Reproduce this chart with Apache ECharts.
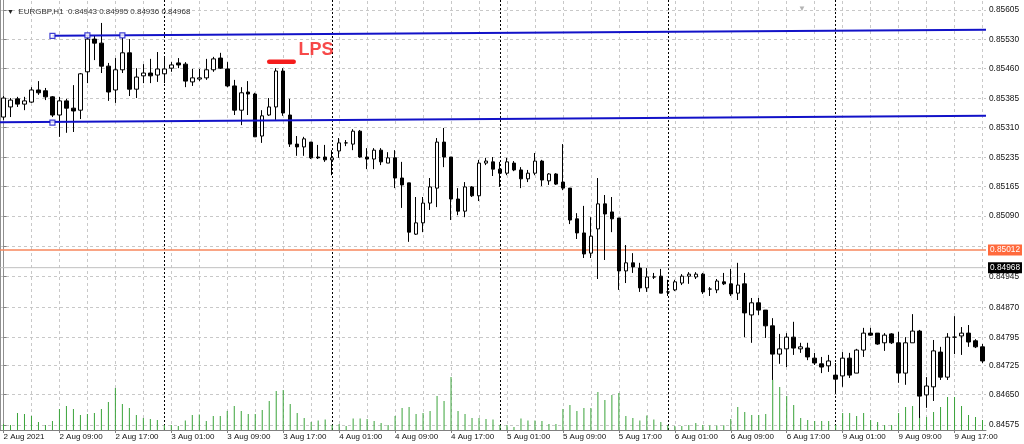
<!DOCTYPE html>
<html><head><meta charset="utf-8">
<script src="https://cdn.jsdelivr.net/npm/echarts@6/dist/echarts.min.js"></script>
<style>html,body{margin:0;padding:0;background:#fff}#c{width:1024px;height:444px}</style>
</head><body><div id="c"></div>
<script>
// ---- categories (hourly bars) ----
const days = ['2 Aug','3 Aug','4 Aug','5 Aug','6 Aug','9 Aug'];
const firstDayStartHour = 1, lastDayEndHour = 21;
const categories = [];
days.forEach((d, di) => {
  const h0 = di === 0 ? firstDayStartHour : 0;
  const h1 = di === days.length - 1 ? lastDayEndHour : 23;
  for (let h = h0; h <= h1; h++) categories.push(d + ' ' + String(h).padStart(2, '0') + ':00');
});
const xLabels = ['2 Aug 2021','2 Aug 09:00','2 Aug 17:00','3 Aug 01:00','3 Aug 09:00','3 Aug 17:00',
  '4 Aug 01:00','4 Aug 09:00','4 Aug 17:00','5 Aug 01:00','5 Aug 09:00','5 Aug 17:00',
  '6 Aug 01:00','6 Aug 09:00','6 Aug 17:00','9 Aug 01:00','9 Aug 09:00','9 Aug 17:00'];
const labelEvery = 8, gridEvery = 4;
const daySeparators = ['3 Aug 00:00','4 Aug 00:00','5 Aug 00:00','6 Aug 00:00','9 Aug 00:00'];

// ---- OHLC ----
const opens = [
0.85341,0.85366,0.85386,0.85373,0.85378,0.85408,0.85406,0.85391,0.85346,0.85381,
0.85363,0.85358,0.85453,0.85534,0.85524,0.85467,0.85408,0.85458,0.85500,0.85410,
0.85443,0.85450,0.85445,0.85448,0.85462,0.85475,0.85472,0.85428,0.85435,0.85438,
0.85458,0.85487,0.85460,0.85418,0.85358,0.85403,0.85398,0.85294,0.85346,0.85366,
0.85455,0.85346,0.85274,0.85267,0.85279,0.85242,0.85242,0.85235,0.85257,0.85277,
0.85274,0.85306,0.85242,0.85237,0.85259,0.85227,0.85240,0.85190,0.85178,0.85051,
0.85079,0.85128,0.85165,0.85279,0.85242,0.85138,0.85108,0.85168,0.85146,0.85227,
0.85230,0.85212,0.85202,0.85227,0.85210,0.85188,0.85202,0.85232,0.85183,0.85200,
0.85180,0.85165,0.85089,0.85054,0.85004,0.85064,0.85126,0.85106,0.85091,0.84960,
0.84980,0.84967,0.84918,0.84945,0.84947,0.84908,0.84913,0.84930,0.84947,0.84945,
0.84952,0.84915,0.84913,0.84933,0.84928,0.84905,0.84928,0.84851,0.84881,0.84863,
0.84824,0.84754,0.84767,0.84796,0.84767,0.84769,0.84744,0.84730,0.84725,0.84702,
0.84700,0.84744,0.84707,0.84764,0.84806,0.84806,0.84782,0.84804,0.84782,0.84707,
0.84782,0.84811,0.84653,0.84673,0.84759,0.84697,0.84796,0.84799,0.84806,0.84787,
0.84772];
const closes = [
0.85388,0.85383,0.85373,0.85381,0.85408,0.85401,0.85391,0.85346,0.85381,0.85363,
0.85356,0.85448,0.85534,0.85524,0.85467,0.85403,0.85458,0.85500,0.85410,0.85440,
0.85450,0.85443,0.85460,0.85460,0.85470,0.85470,0.85430,0.85438,0.85438,0.85458,
0.85485,0.85462,0.85418,0.85358,0.85401,0.85398,0.85292,0.85344,0.85366,0.85455,
0.85351,0.85274,0.85267,0.85287,0.85240,0.85240,0.85235,0.85240,0.85277,0.85277,
0.85306,0.85242,0.85237,0.85259,0.85230,0.85240,0.85190,0.85173,0.85056,0.85079,
0.85128,0.85168,0.85279,0.85242,0.85138,0.85108,0.85168,0.85146,0.85227,0.85232,
0.85212,0.85202,0.85230,0.85210,0.85188,0.85202,0.85232,0.85185,0.85200,0.85175,
0.85165,0.85086,0.85054,0.85002,0.85046,0.85126,0.85101,0.85089,0.84960,0.84980,
0.84970,0.84918,0.84945,0.84945,0.84905,0.84908,0.84933,0.84947,0.84952,0.84952,
0.84908,0.84915,0.84935,0.84928,0.84903,0.84925,0.84856,0.84881,0.84863,0.84824,
0.84754,0.84767,0.84796,0.84769,0.84772,0.84747,0.84732,0.84722,0.84737,0.84692,
0.84744,0.84702,0.84764,0.84806,0.84801,0.84779,0.84801,0.84782,0.84707,0.84782,
0.84811,0.84650,0.84675,0.84762,0.84697,0.84796,0.84796,0.84806,0.84784,0.84772,
0.84737];
const lows = [
0.85334,0.85341,0.85366,0.85358,0.85376,0.85396,0.85383,0.85341,0.85292,0.85302,
0.85304,0.85336,0.85425,0.85482,0.85450,0.85381,0.85376,0.85450,0.85393,0.85388,
0.85425,0.85425,0.85428,0.85425,0.85453,0.85462,0.85415,0.85418,0.85430,0.85433,
0.85453,0.85460,0.85415,0.85346,0.85321,0.85346,0.85292,0.85277,0.85344,0.85334,
0.85344,0.85267,0.85245,0.85245,0.85237,0.85237,0.85230,0.85197,0.85240,0.85269,
0.85259,0.85240,0.85212,0.85212,0.85222,0.85227,0.85165,0.85116,0.85032,0.85049,
0.85056,0.85111,0.85118,0.85217,0.85086,0.85098,0.85093,0.85143,0.85133,0.85222,
0.85195,0.85168,0.85197,0.85207,0.85165,0.85180,0.85197,0.85170,0.85173,0.85173,
0.85160,0.85076,0.85039,0.84992,0.84992,0.84940,0.84987,0.85056,0.84913,0.84930,
0.84955,0.84908,0.84908,0.84940,0.84905,0.84898,0.84910,0.84925,0.84928,0.84940,
0.84903,0.84898,0.84905,0.84925,0.84898,0.84888,0.84796,0.84782,0.84851,0.84794,
0.84690,0.84730,0.84722,0.84752,0.84757,0.84739,0.84727,0.84707,0.84710,0.84660,
0.84673,0.84695,0.84707,0.84747,0.84799,0.84777,0.84762,0.84779,0.84683,0.84678,
0.84782,0.84596,0.84621,0.84638,0.84690,0.84690,0.84754,0.84752,0.84772,0.84769,
0.84732];
const highs = [
0.85393,0.85388,0.85391,0.85391,0.85415,0.85430,0.85413,0.85393,0.85391,0.85386,
0.85420,0.85450,0.85544,0.85544,0.85574,0.85475,0.85487,0.85537,0.85534,0.85462,
0.85472,0.85485,0.85502,0.85492,0.85477,0.85487,0.85477,0.85460,0.85460,0.85485,
0.85490,0.85500,0.85477,0.85433,0.85415,0.85430,0.85401,0.85358,0.85388,0.85462,
0.85462,0.85386,0.85294,0.85292,0.85279,0.85272,0.85272,0.85259,0.85289,0.85284,
0.85311,0.85309,0.85264,0.85264,0.85264,0.85254,0.85259,0.85230,0.85178,0.85143,
0.85143,0.85190,0.85289,0.85314,0.85242,0.85165,0.85180,0.85170,0.85235,0.85240,
0.85242,0.85230,0.85240,0.85232,0.85217,0.85210,0.85252,0.85235,0.85202,0.85202,
0.85274,0.85165,0.85103,0.85121,0.85093,0.85190,0.85148,0.85143,0.85091,0.85024,
0.85004,0.84980,0.84967,0.84955,0.84965,0.84938,0.84938,0.84952,0.84957,0.84957,
0.84955,0.84920,0.84940,0.84955,0.84965,0.84980,0.84955,0.84893,0.84893,0.84863,
0.84843,0.84804,0.84806,0.84834,0.84782,0.84782,0.84757,0.84747,0.84752,0.84732,
0.84759,0.84757,0.84767,0.84819,0.84819,0.84806,0.84806,0.84806,0.84809,0.84796,
0.84853,0.84814,0.84697,0.84789,0.84772,0.84806,0.84848,0.84821,0.84826,0.84791,
0.84779];
// ---- tick volumes ----
const volumes = [
240,200,680,640,560,320,200,360,840,960,
840,600,640,680,840,1120,1680,1040,880,600,
480,440,400,200,200,160,380,600,620,360,
560,560,760,960,760,640,640,800,1160,1560,
1600,1040,680,480,320,380,420,200,240,160,
460,460,440,360,280,200,560,880,920,640,
680,760,1360,1160,2120,760,640,480,480,440,
420,200,200,120,460,380,380,360,240,240,
840,1000,760,880,880,1520,1200,1400,1480,560,
480,380,580,420,320,200,160,160,200,280,
200,180,180,190,440,920,720,600,600,640,
2000,1720,1360,1000,480,400,360,360,360,200,
680,680,560,680,400,320,200,200,680,920,
960,560,520,720,920,1320,1320,960,600,520,
400];

// ---- price axis ----
const priceMin = 0.845661, priceMax = 0.856308;
const yGridValues = [0.85606,0.855335,0.854617,0.853864,0.853146,0.852403,0.851685,0.85096,0.850217,0.849457,0.848699,0.847957,0.847253,0.846535,0.845785];
const yTickLabels = ['0.85605','0.85530','0.85460','0.85385','0.85310','0.85235','0.85165','0.85090','','0.84945','0.84870','0.84795','0.84725','0.84650','0.84575'];
const volumeAxisMax = 17200;

// ---- objects on chart ----
const headerText = 'EURGBP,H1  0.84943 0.84995 0.84936 0.84968';
const levelLine = 0.85012, bidLine = 0.84968;
const upperTrend = [[7, 0.85542], [140.5, 0.85557]];
const lowerTrend = [[-0.5, 0.85328], [140.5, 0.85344]];
const trendHandles = [[7, 0.85542], [12, 0.85543], [17, 0.85543], [7, 0.85327]];
const lpsBar = [[38.0, 0.85478], [41.5, 0.85478]];
const lpsLabel = [[42.1, 0.85508]];

const FONT = 'Liberation Sans';
const N = categories.length;
const ohlc = opens.map((o, i) => [o, closes[i], lows[i], highs[i]]);
const gridXLines = categories.filter((c, i) => i > 0 && i % gridEvery === 0);
const hLine = v => [[-0.5, v], [N - 0.5, v]];

const chart = echarts.init(document.getElementById('c'), null, {renderer: 'canvas'});
chart.setOption({
  animation: false,
  backgroundColor: '#fff',
  textStyle: {fontFamily: FONT},
  title: [{
    text: '{t|▼}  ' + headerText, left: 2, top: 3,
    textStyle: {fontSize: 8, fontWeight: 'normal', color: '#333', fontFamily: FONT,
      rich: {t: {fontSize: 7, color: '#222'}}}
  }, {
    text: '▼', left: 793, top: 0, textStyle: {fontSize: 8, color: '#b4b4b4', fontWeight: 'normal'}
  }],
  grid: {left: 0, right: 38, top: 0, bottom: 14},
  xAxis: [{
    type: 'category', data: categories, boundaryGap: true,
    axisLine: {show: true, lineStyle: {color: '#808080', width: 1}},
    axisTick: {show: true, alignWithLabel: true, length: 3, interval: i => i % labelEvery === 0, lineStyle: {color: '#808080'}},
    axisLabel: {interval: i => i % labelEvery === 0, formatter: (v, i) => xLabels[i / labelEvery],
      align: 'left', margin: 3, fontSize: 8, color: '#111', fontFamily: FONT},
    splitLine: {show: false}
  }, {
    type: 'value', min: -0.5, max: N - 0.5, show: false
  }],
  yAxis: [{
    type: 'value', position: 'right', min: priceMin, max: priceMax,
    axisLine: {show: true, lineStyle: {color: '#909090', width: 1}},
    axisTick: {show: true, customValues: yGridValues, length: 3, lineStyle: {color: '#808080'}},
    axisLabel: {customValues: yGridValues, margin: 3, fontSize: 8.3, color: '#111', fontFamily: FONT,
      formatter: v => { let k = 0, d = 1; yGridValues.forEach((g, j) => { if (Math.abs(g - v) < d) { d = Math.abs(g - v); k = j; } }); return yTickLabels[k]; }},
    splitLine: {show: true, lineStyle: {type: [3, 3], color: '#c8c8c8', width: 1}}
  }, {
    type: 'value', position: 'left', min: 0, max: volumeAxisMax,
    axisLine: {show: true, onZero: false, lineStyle: {color: '#909090', width: 2}},
    axisTick: {show: false}, axisLabel: {show: false}, splitLine: {show: false}
  }],
  series: [
    {
      type: 'bar', name: 'Volume', data: volumes, xAxisIndex: 0, yAxisIndex: 1,
      barWidth: 1, itemStyle: {color: '#3aa33a'}, z: 1,
      markLine: {
        silent: true, symbol: ['none', 'none'], z: 1, animation: false,
        label: {show: false},
        data: [
          ...gridXLines.map(c => ({xAxis: c, lineStyle: {color: '#c8c8c8', type: [3, 3], width: 1}})),
          ...daySeparators.map(c => ({xAxis: c, lineStyle: {color: '#000', type: [2, 2], width: 1}}))
        ]
      }
    },
    {type: 'line', data: hLine(levelLine), xAxisIndex: 1, yAxisIndex: 0, symbol: 'none', z: 2,
      lineStyle: {color: '#f7875c', width: 1.5}, clip: false,
      endLabel: {show: true, distance: 2, formatter: levelLine.toFixed(5), color: '#fff',
        backgroundColor: '#ff6a3d', padding: [2, 2, 1, 2], fontSize: 8.3, fontFamily: FONT}},
    {type: 'line', data: hLine(bidLine), xAxisIndex: 1, yAxisIndex: 0, symbol: 'none', z: 2,
      lineStyle: {color: '#c0c0c0', width: 1}, clip: false,
      endLabel: {show: true, distance: 2, formatter: bidLine.toFixed(5), color: '#fff',
        backgroundColor: '#000', padding: [2, 2, 1, 2], fontSize: 8.3, fontFamily: FONT}},
    {
      type: 'candlestick', name: 'EURGBP', data: ohlc, xAxisIndex: 0, yAxisIndex: 0,
      barWidth: 4, z: 3,
      itemStyle: {color: '#fff', color0: '#000', borderColor: '#000', borderColor0: '#000', borderWidth: 1}
    },
    {type: 'line', data: upperTrend, xAxisIndex: 1, yAxisIndex: 0, symbol: 'none', z: 4,
      lineStyle: {color: '#1212c8', width: 2}},
    {type: 'line', data: lowerTrend, xAxisIndex: 1, yAxisIndex: 0, symbol: 'none', z: 4,
      lineStyle: {color: '#1212c8', width: 2}},
    {type: 'scatter', data: trendHandles, xAxisIndex: 1, yAxisIndex: 0, symbol: 'rect', symbolSize: 5, z: 5,
      itemStyle: {color: '#fff', borderColor: '#1212c8', borderWidth: 1.2}},
    {type: 'line', data: lpsBar, xAxisIndex: 1, yAxisIndex: 0, symbol: 'none', z: 5,
      lineStyle: {color: '#f51c1c', width: 4.5, cap: 'round'}},
    {type: 'scatter', data: lpsLabel, xAxisIndex: 1, yAxisIndex: 0, symbolSize: 1, z: 5,
      itemStyle: {color: 'rgba(0,0,0,0)'},
      label: {show: true, position: 'right', distance: 0, formatter: 'LPS', fontSize: 18, fontWeight: 'bold',
        color: '#f51c1c', fontFamily: FONT}}
  ]
});
</script>
</body></html>
